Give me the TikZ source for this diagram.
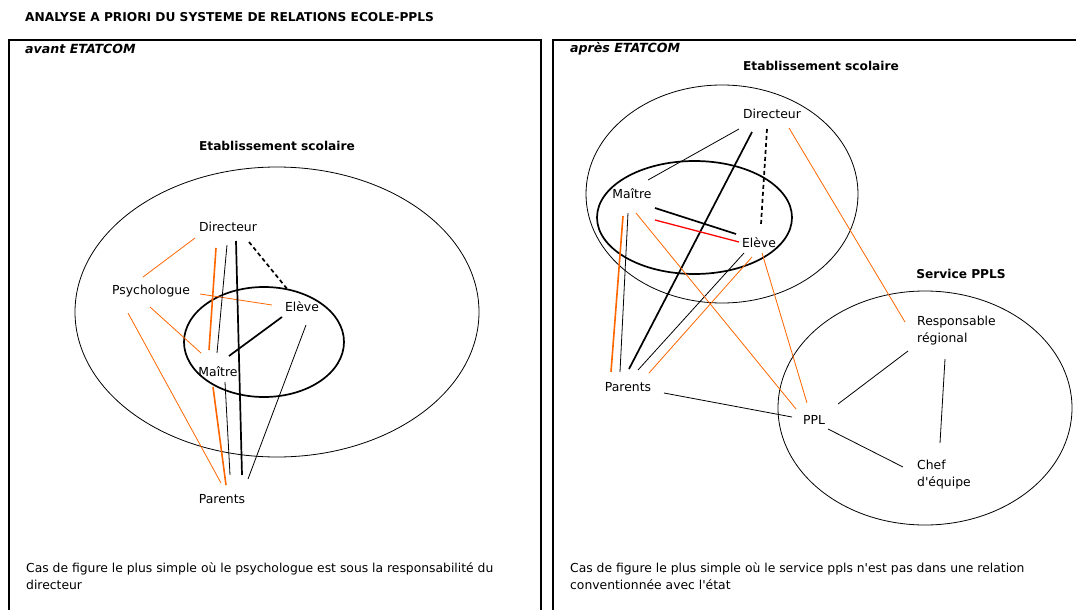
\documentclass[tikz,border=0pt]{standalone}
\usepackage{fontspec}
\setmainfont{DejaVu Sans}
\usetikzlibrary{calc}
\definecolor{orangeppl}{RGB}{255,102,0}

\begin{document}
\begin{tikzpicture}[x=1pt, y=-1pt,
  etiquette/.style={font=\fontsize{12.4}{17}\selectfont, inner sep=0pt, align=left},
  grastitre/.style={font=\fontsize{12.2}{14}\selectfont\bfseries, inner sep=0pt},
  cas/.style={font=\fontsize{12.6}{17}\selectfont\bfseries\itshape, inner sep=0pt},
  legende/.style={font=\fontsize{12.35}{17}\selectfont, inner sep=0pt, align=left},
  trait/.style={draw=black, line width=0.8pt},
  traitfort/.style={draw=black, line width=1.7pt},
  tirets/.style={traitfort, dash pattern=on 4pt off 3pt},
  lienorange/.style={draw=orangeppl, line width=0.8pt},
  lienorangefort/.style={draw=orangeppl, line width=1.6pt},
  lienrouge/.style={draw=red, line width=1.3pt},
  cadre/.style={draw=black, line width=2pt}
]
\useasboundingbox (0,0) rectangle (1076,610);
\clip (0,0) rectangle (1076,610);

%--------------------------------------------------------------
% Titre et cadres
%--------------------------------------------------------------
\node[grastitre, anchor=west] (titre) at (25,17)
  {ANALYSE A PRIORI DU SYSTEME DE RELATIONS ECOLE-PPLS};
\draw[cadre] (9,650) |- (541,40) -- (541,650);
\draw[cadre] (553,650) |- (1100,40);
\node[cas, anchor=west] (avant) at (25,49) {avant ETATCOM};
\node[cas, anchor=west] (apres) at (570,49) {après ETATCOM};

%--------------------------------------------------------------
% Avant ETATCOM
%--------------------------------------------------------------
\node[grastitre] (etabA) at (277,146) {Etablissement scolaire};
\draw[trait] (277,312) ellipse [x radius=202, y radius=145];
\draw[traitfort] (264,342) ellipse [x radius=80, y radius=55];

\node[etiquette] (dirA) at (228,227) {Directeur};
\node[etiquette] (psyA) at (151,291) {Psychologue};
\node[etiquette] (eleA) at (302,307) {Elève};
\node[etiquette] (maiA) at (218,372) {Maître};
\node[etiquette] (parA) at (222,499) {Parents};

\draw[lienorange] ($(dirA)+(-33,11)$) -- ($(psyA)+(-8,-14)$);
\draw[lienorangefort] ($(dirA)+(-12,21)$) -- ($(maiA)+(-9,-22)$);
\draw[lienorange] ($(psyA)+(49,3)$) -- ($(eleA)+(-30,-2)$);
\draw[lienorange] ($(psyA)+(-1,16)$) -- ($(maiA)+(-17,-19)$);
\draw[lienorange] ($(psyA)+(-23,22)$) -- ($(parA)+(-1,-16)$);
\draw[lienorangefort] ($(maiA)+(-5,15)$) -- ($(parA)+(4,-14)$);
\draw[trait] ($(dirA)+(-1,18)$) -- ($(maiA)+(-1,-19)$);
\draw[traitfort] ($(dirA)+(8,14)$) -- ($(parA)+(20,-24)$);
\draw[tirets] ($(dirA)+(21,15)$) -- ($(eleA)+(-14,-17)$);
\draw[traitfort] ($(maiA)+(11,-16)$) -- ($(eleA)+(-20,10)$);
\draw[trait] ($(maiA)+(7,10)$) -- ($(parA)+(8,-24)$);
\draw[trait] ($(eleA)+(4,18)$) -- ($(parA)+(26,-20)$);

\node[legende, anchor=north west] (legA) at (26,562)
  {Cas de figure le plus simple où le psychologue est sous la responsabilité du\\
   directeur};

%--------------------------------------------------------------
% Apres ETATCOM
%--------------------------------------------------------------
\node[grastitre] (etabB) at (821,66) {Etablissement scolaire};
\draw[trait] (722,194) ellipse [x radius=136, y radius=109];
\draw[traitfort] (694.5,217.5) ellipse [x radius=97.5, y radius=56.5];

\node[grastitre] (service) at (961,274) {Service PPLS};
\draw[trait] (925,408) ellipse [x radius=147, y radius=117];

\node[etiquette] (dirB) at (772,114) {Directeur};
\node[etiquette] (maiB) at (632,194) {Maître};
\node[etiquette] (eleB) at (759,243) {Elève};
\node[etiquette] (parB) at (628,387) {Parents};
\node[etiquette] (pplB) at (814,420) {PPL};
\node[etiquette, anchor=west] (respB) at (917,331) {Responsable\\régional};
\node[etiquette, anchor=west] (chefB) at (917,475) {Chef\\d\textquotesingle équipe};

\draw[trait] ($(dirB)+(-33,15)$) -- ($(maiB)+(16,-14)$);
\draw[traitfort] ($(dirB)+(-20,18)$) -- ($(parB)+(1,-18)$);
\draw[tirets] ($(dirB)+(-5,15)$) -- ($(eleB)+(2,-19)$);
\draw[traitfort] ($(maiB)+(23,14)$) -- ($(eleB)+(-23,-9)$);
\draw[lienrouge] ($(maiB)+(23,26)$) -- ($(eleB)+(-20,-1)$);
\draw[trait] ($(maiB)+(-4,19)$) -- ($(parB)+(-8,-15)$);
\draw[trait] ($(eleB)+(-15,10)$) -- ($(parB)+(10,-17)$);
\draw[lienorangefort] ($(maiB)+(-9,22)$) -- ($(parB)+(-17,-15)$);
\draw[lienorange] ($(eleB)+(-7,14)$) -- ($(parB)+(21,-14)$);
\draw[lienorange] ($(maiB)+(4,19)$) -- ($(pplB)+(-18,-11)$);
\draw[lienorange] ($(eleB)+(3,10)$) -- ($(pplB)+(-7,-17)$);
\draw[lienorange] ($(dirB)+(17,14)$) -- ($(respB.west)+(-12,-9)$);
\draw[trait] ($(parB)+(36,6)$) -- ($(pplB)+(-22,-3)$);
\draw[trait] ($(pplB)+(24,-16)$) -- ($(respB.west)+(-9,20)$);
\draw[trait] ($(respB.west)+(28,28)$) -- ($(chefB.west)+(23,-32)$);
\draw[trait] ($(pplB)+(14,9)$) -- ($(chefB.west)+(-14,-8)$);

\node[legende, anchor=north west] (legB) at (570,562)
  {Cas de figure le plus simple où le service ppls n\textquotesingle est pas dans une relation\\
   conventionnée avec l\textquotesingle état};

\end{tikzpicture}
\end{document}
